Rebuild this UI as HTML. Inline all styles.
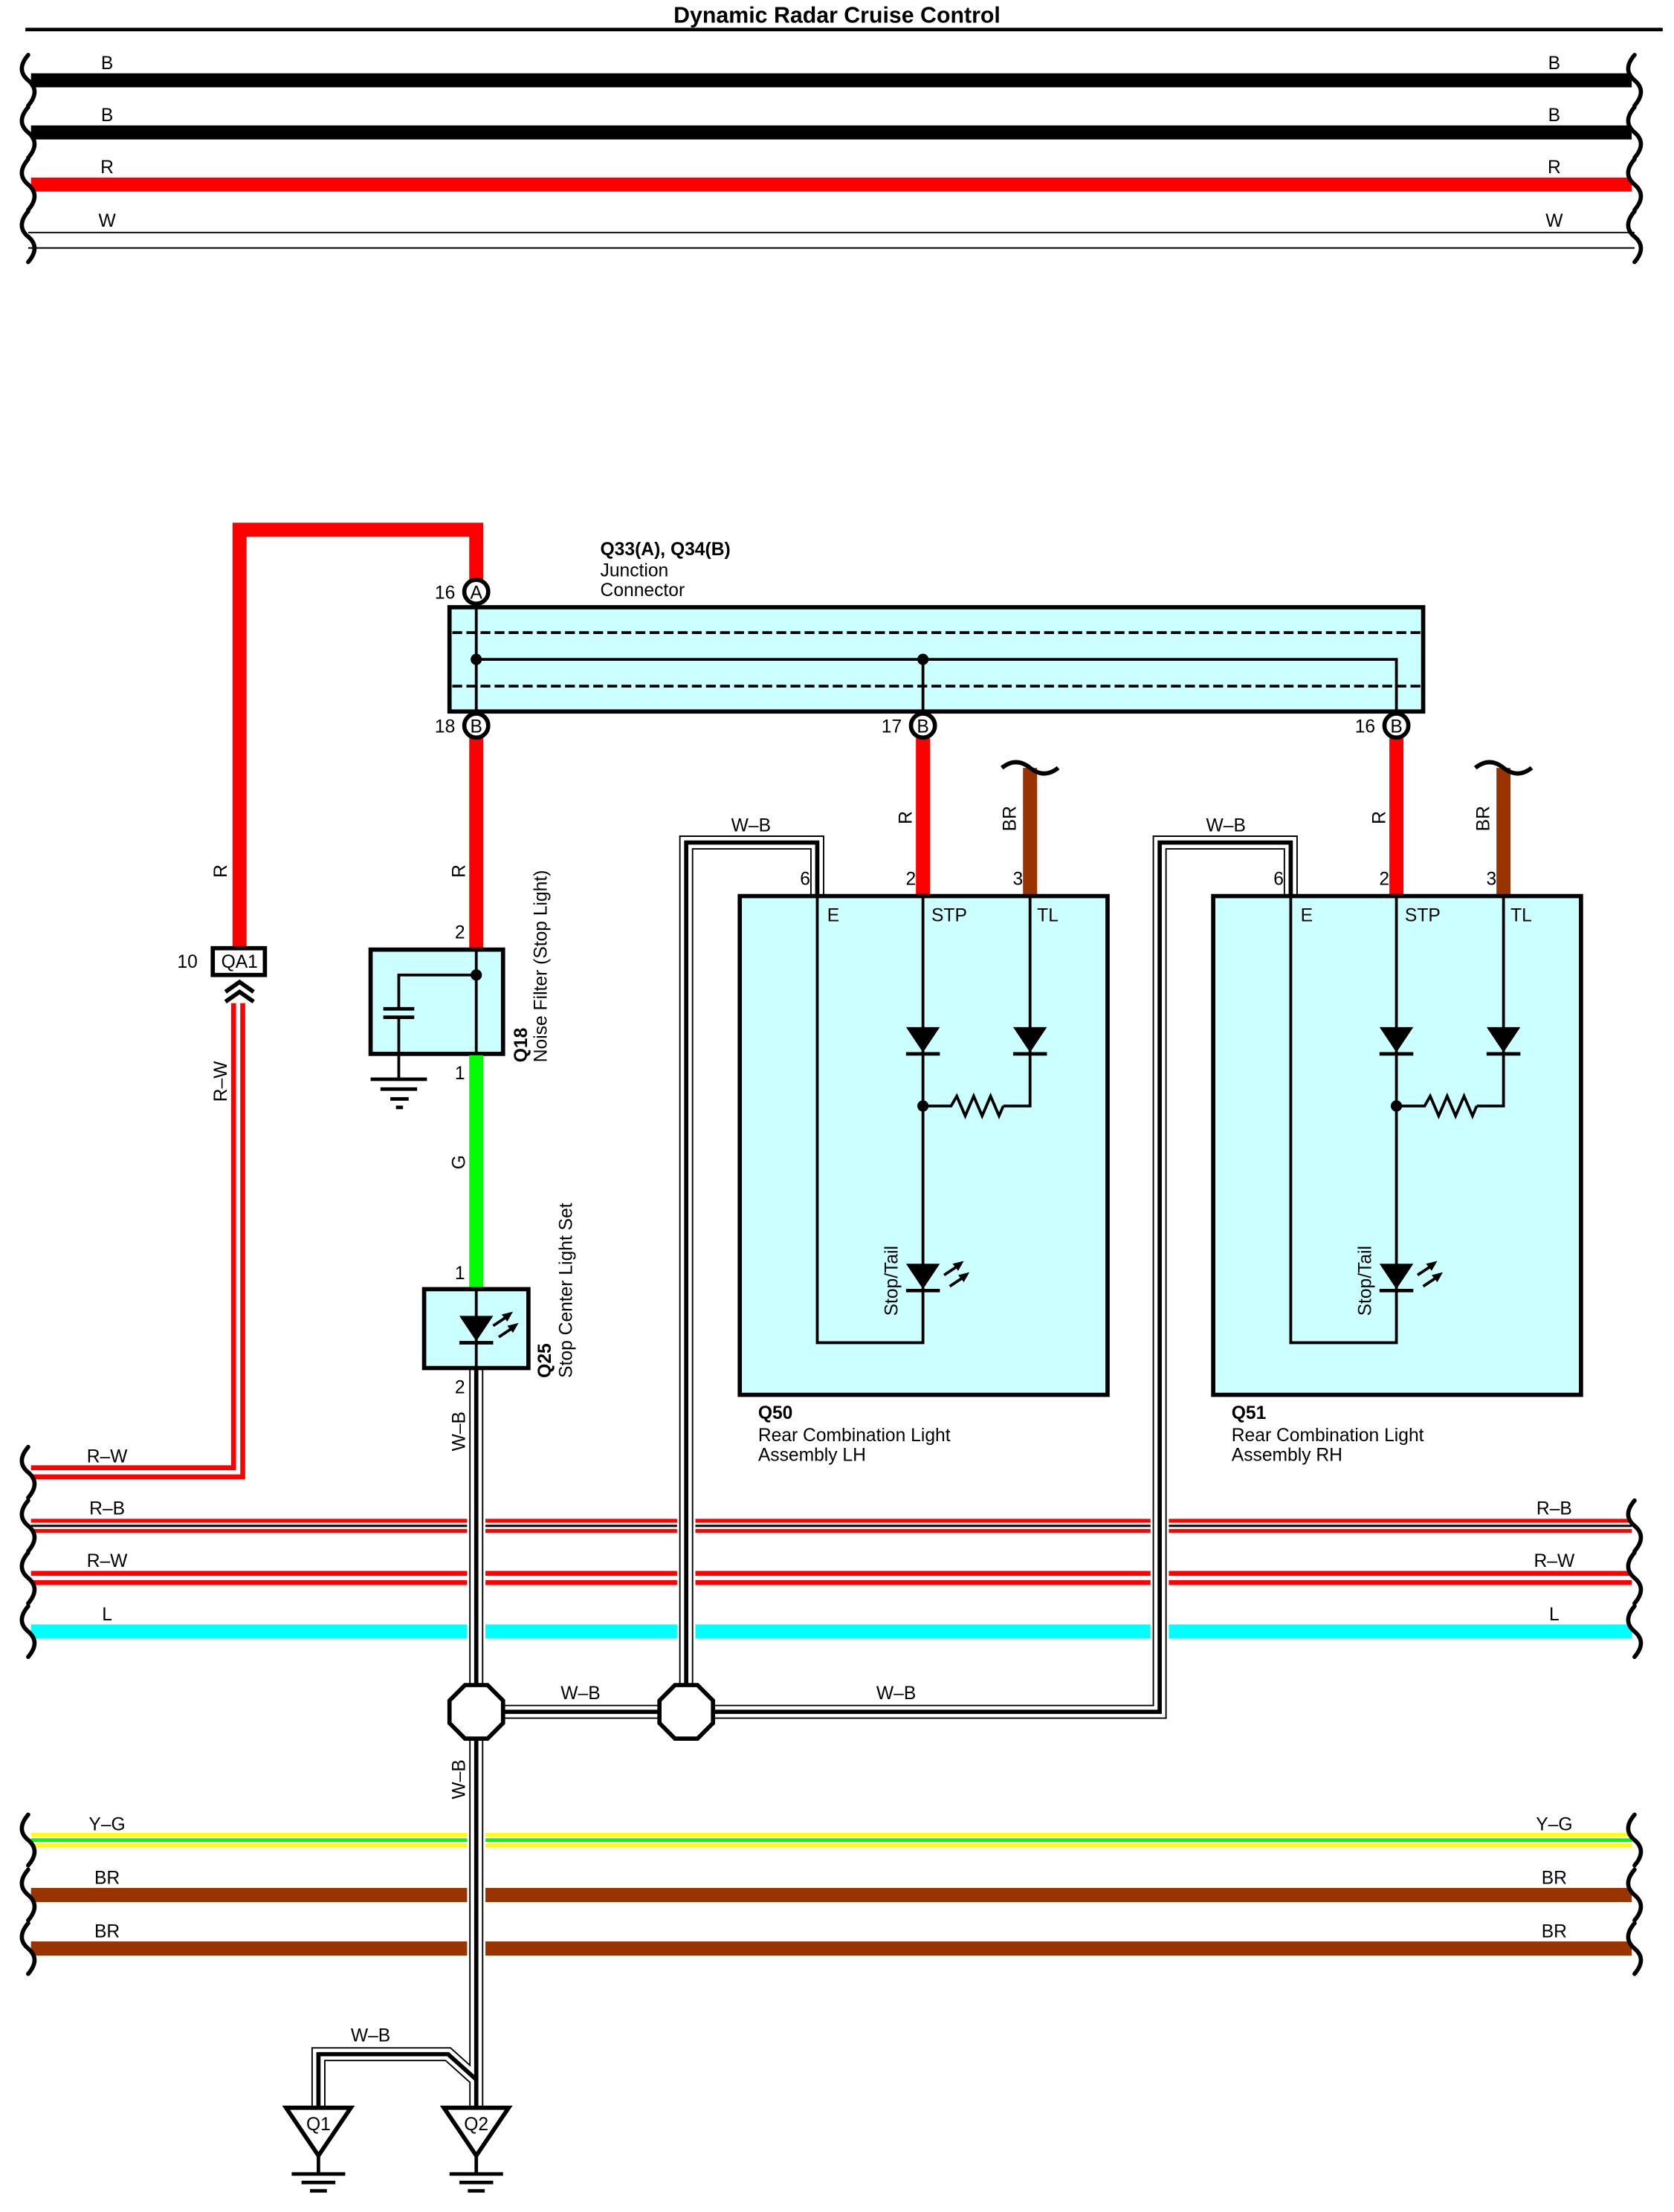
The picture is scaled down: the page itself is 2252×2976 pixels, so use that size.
<!DOCTYPE html>
<html><head><meta charset="utf-8"><style>
html,body{margin:0;padding:0;background:#fff}
svg{display:block}
text{font-family:"Liberation Sans",Arial,sans-serif;font-size:13px;fill:#000}
.b{font-weight:bold}
</style></head><body>
<svg width="2252" height="2976" viewBox="0 0 1188 1570" preserveAspectRatio="none" xmlns="http://www.w3.org/2000/svg">
<defs>
<path id="br" d="M0,-18 C-6,-11 -6,-5 0,0 C6,5 6,11 0,18" fill="none" stroke="#000" stroke-width="3" stroke-linecap="round"/>
<g id="diode"><polygon points="-12,0 12,0 0,18" fill="#000"/><line x1="-12" y1="19" x2="12" y2="19" stroke="#000" stroke-width="2.5"/></g>
<g id="arrows" stroke="#000" stroke-width="2" fill="#000">
<line x1="0" y1="8" x2="12" y2="0"/><polygon points="14,-2 6,0 10,5" stroke="none"/>
<line x1="4" y1="16" x2="16" y2="8"/><polygon points="18,6 10,8 14,13" stroke="none"/>
</g>
</defs>
<text x="594" y="16" text-anchor="middle" class="b" style="font-size:16px">Dynamic Radar Cruise Control</text>
<line x1="18" y1="21" x2="1180" y2="21" stroke="#000" stroke-width="2.5"/>

<g stroke-width="10">
<line x1="22" y1="57" x2="1158" y2="57" stroke="#000"/>
<line x1="22" y1="94" x2="1158" y2="94" stroke="#000"/>
<line x1="22" y1="131" x2="1158" y2="131" stroke="#f00"/>
</g>
<line x1="20" y1="165" x2="1160" y2="165" stroke="#000" stroke-width="1"/>
<line x1="20" y1="176" x2="1160" y2="176" stroke="#000" stroke-width="1"/>
<g>
<text x="76" y="49" text-anchor="middle">B</text><text x="1103" y="49" text-anchor="middle">B</text>
<text x="76" y="86" text-anchor="middle">B</text><text x="1103" y="86" text-anchor="middle">B</text>
<text x="76" y="123" text-anchor="middle">R</text><text x="1103" y="123" text-anchor="middle">R</text>
<text x="76" y="161" text-anchor="middle">W</text><text x="1103" y="161" text-anchor="middle">W</text>
</g>
<use href="#br" x="20" y="57"/><use href="#br" x="20" y="94"/><use href="#br" x="20" y="131"/><use href="#br" x="20" y="168"/>
<use href="#br" x="1160" y="57"/><use href="#br" x="1160" y="94"/><use href="#br" x="1160" y="131"/><use href="#br" x="1160" y="168"/>

<g stroke-width="10" fill="none">
<polyline points="22,1045 169,1045 169,712" stroke="#f00"/>
<line x1="22" y1="1083" x2="1158" y2="1083" stroke="#f00"/>
<line x1="22" y1="1120" x2="1158" y2="1120" stroke="#f00"/>
<line x1="22" y1="1158" x2="1158" y2="1158" stroke="#0ff"/>
<line x1="22" y1="1306" x2="1158" y2="1306" stroke="#ff0"/>
<line x1="22" y1="1345" x2="1158" y2="1345" stroke="#993300"/>
<line x1="22" y1="1383" x2="1158" y2="1383" stroke="#993300"/>
</g>
<polyline points="22,1045 169,1045 169,712" stroke="#fff" stroke-width="3" fill="none"/>
<line x1="22" y1="1083" x2="1158" y2="1083" stroke="#fff" stroke-width="4.5"/>
<line x1="22" y1="1083" x2="1158" y2="1083" stroke="#000" stroke-width="1.6"/>
<line x1="22" y1="1120" x2="1158" y2="1120" stroke="#fff" stroke-width="3"/>
<line x1="22" y1="1306" x2="1158" y2="1306" stroke="#fff" stroke-width="5"/>
<line x1="22" y1="1306" x2="1158" y2="1306" stroke="#0f0" stroke-width="2.5"/>
<g>
<text x="76" y="1038" text-anchor="middle">R–W</text>
<text x="76" y="1075" text-anchor="middle">R–B</text><text x="1103" y="1075" text-anchor="middle">R–B</text>
<text x="76" y="1112" text-anchor="middle">R–W</text><text x="1103" y="1112" text-anchor="middle">R–W</text>
<text x="76" y="1150" text-anchor="middle">L</text><text x="1103" y="1150" text-anchor="middle">L</text>
<text x="76" y="1299" text-anchor="middle">Y–G</text><text x="1103" y="1299" text-anchor="middle">Y–G</text>
<text x="76" y="1337" text-anchor="middle">BR</text><text x="1103" y="1337" text-anchor="middle">BR</text>
<text x="76" y="1375" text-anchor="middle">BR</text><text x="1103" y="1375" text-anchor="middle">BR</text>
</g>
<use href="#br" x="20" y="1045"/><use href="#br" x="20" y="1083"/><use href="#br" x="20" y="1120"/><use href="#br" x="20" y="1158"/>
<use href="#br" x="20" y="1306"/><use href="#br" x="20" y="1345"/><use href="#br" x="20" y="1383"/>
<use href="#br" x="1160" y="1083"/><use href="#br" x="1160" y="1120"/><use href="#br" x="1160" y="1158"/>
<use href="#br" x="1160" y="1306"/><use href="#br" x="1160" y="1345"/><use href="#br" x="1160" y="1383"/>

<g stroke="#fff" stroke-width="13">
<line x1="338" y1="1070" x2="338" y2="1170"/>
<line x1="338" y1="1295" x2="338" y2="1395"/>
<line x1="487" y1="1070" x2="487" y2="1170"/>
<line x1="823" y1="1070" x2="823" y2="1170"/>
</g>

<g fill="none" stroke-linejoin="miter">
<g stroke="#000" stroke-width="10">
<line x1="338" y1="972" x2="338" y2="1496"/>
<polyline points="580,637 580,598 487,598 487,1215"/>
<polyline points="916,637 916,598 823,598 823,1215 487,1215"/>
<line x1="338" y1="1215" x2="487" y2="1215"/>
<polyline points="226,1496 226,1458 318,1458 338,1476"/>
</g>
<g stroke="#fff" stroke-width="8">
<line x1="338" y1="972" x2="338" y2="1496"/>
<polyline points="580,637 580,598 487,598 487,1215"/>
<polyline points="916,637 916,598 823,598 823,1215 487,1215"/>
<line x1="338" y1="1215" x2="487" y2="1215"/>
<polyline points="226,1496 226,1458 318,1458 338,1476"/>
</g>
<g stroke="#000" stroke-width="3">
<line x1="338" y1="972" x2="338" y2="1496"/>
<polyline points="580,637 580,598 487,598 487,1215"/>
<polyline points="916,637 916,598 823,598 823,1215 487,1215"/>
<line x1="338" y1="1215" x2="487" y2="1215"/>
<polyline points="226,1496 226,1458 318,1458 338,1476"/>
</g>
</g>
<text x="412" y="1206" text-anchor="middle">W–B</text>
<text x="636" y="1206" text-anchor="middle">W–B</text>
<text x="533" y="590" text-anchor="middle">W–B</text>
<text x="870" y="590" text-anchor="middle">W–B</text>
<text x="263" y="1449" text-anchor="middle">W–B</text>
<text transform="translate(330,1030) rotate(-90)">W–B</text>
<text transform="translate(330,1277) rotate(-90)">W–B</text>

<polygon points="330,1196 346,1196 357,1207 357,1223 346,1234 330,1234 319,1223 319,1207" fill="#fff" stroke="#000" stroke-width="3"/>
<polygon points="479,1196 495,1196 506,1207 506,1223 495,1234 479,1234 468,1223 468,1207" fill="#fff" stroke="#000" stroke-width="3"/>

<g stroke="#000" stroke-width="3" fill="#fff">
<polygon points="203,1496 249,1496 226,1530"/>
<polygon points="315,1496 361,1496 338,1530"/>
</g>
<g stroke="#000" stroke-width="2.5">
<line x1="226" y1="1530" x2="226" y2="1543"/><line x1="207" y1="1543" x2="245" y2="1543"/><line x1="214" y1="1549" x2="238" y2="1549"/><line x1="220" y1="1555" x2="232" y2="1555"/>
<line x1="338" y1="1530" x2="338" y2="1543"/><line x1="319" y1="1543" x2="357" y2="1543"/><line x1="326" y1="1549" x2="350" y2="1549"/><line x1="332" y1="1555" x2="344" y2="1555"/>
</g>
<text x="226" y="1512" text-anchor="middle">Q1</text>
<text x="338" y="1512" text-anchor="middle">Q2</text>

<g stroke="#f00" stroke-width="10" fill="none">
<polyline points="338,412 338,376 170,376 170,673"/>
<line x1="338" y1="524" x2="338" y2="674"/>
<line x1="655" y1="524" x2="655" y2="637"/>
<line x1="991" y1="524" x2="991" y2="637"/>
</g>
<g stroke="#993300" stroke-width="10">
<line x1="731" y1="545" x2="731" y2="637"/>
<line x1="1067" y1="545" x2="1067" y2="637"/>
</g>
<path d="M711,545 q10,-8 20,0 q10,8 20,0" fill="none" stroke="#000" stroke-width="3"/>
<path d="M1047,545 q10,-8 20,0 q10,8 20,0" fill="none" stroke="#000" stroke-width="3"/>
<text transform="translate(161,623) rotate(-90)">R</text>
<text transform="translate(330,623) rotate(-90)">R</text>
<text transform="translate(161,782) rotate(-90)">R–W</text>
<text transform="translate(647,585) rotate(-90)">R</text>
<text transform="translate(721,590) rotate(-90)">BR</text>
<text transform="translate(983,585) rotate(-90)">R</text>
<text transform="translate(1057,590) rotate(-90)">BR</text>

<rect x="151" y="673" width="37" height="19" fill="#fff" stroke="#000" stroke-width="3"/>
<text x="170" y="687" text-anchor="middle">QA1</text>
<text x="133" y="687" text-anchor="middle">10</text>
<polyline points="160,704 170,697 180,704" fill="none" stroke="#000" stroke-width="3"/>
<polyline points="160,711 170,704 180,711" fill="none" stroke="#000" stroke-width="3"/>

<rect x="319" y="431" width="691" height="74" fill="#ccffff" stroke="#000" stroke-width="3"/>
<line x1="321" y1="449" x2="1008" y2="449" stroke="#000" stroke-width="2" stroke-dasharray="7,3"/>
<line x1="321" y1="487" x2="1008" y2="487" stroke="#000" stroke-width="2" stroke-dasharray="7,3"/>
<g stroke="#000" stroke-width="2" fill="none">
<line x1="338" y1="420" x2="338" y2="515"/>
<polyline points="338,468 991,468 991,515"/>
<line x1="655" y1="468" x2="655" y2="515"/>
</g>
<circle cx="338" cy="468" r="4"/><circle cx="655" cy="468" r="4"/>
<g fill="#fff" stroke="#000" stroke-width="3">
<circle cx="338" cy="420" r="8.5"/><circle cx="338" cy="515" r="8.5"/><circle cx="655" cy="515" r="8.5"/><circle cx="991" cy="515" r="8.5"/>
</g>
<g style="font-size:12px">
<text x="338" y="425" text-anchor="middle">A</text><text x="338" y="520" text-anchor="middle">B</text>
<text x="655" y="520" text-anchor="middle">B</text><text x="991" y="520" text-anchor="middle">B</text>
</g>
<text x="323" y="425" text-anchor="end">16</text>
<text x="323" y="520" text-anchor="end">18</text>
<text x="640" y="520" text-anchor="end">17</text>
<text x="976" y="520" text-anchor="end">16</text>
<text x="426" y="394" class="b">Q33(A), Q34(B)</text>
<text x="426" y="409">Junction</text>
<text x="426" y="423">Connector</text>

<rect x="263" y="674" width="94" height="74" fill="#ccffff" stroke="#000" stroke-width="3"/>
<g stroke="#000" stroke-width="2" fill="none">
<line x1="338" y1="674" x2="338" y2="748"/>
<polyline points="338,692 283,692 283,716"/>
<line x1="283" y1="722" x2="283" y2="766"/>
</g>
<g stroke="#000" stroke-width="2.5">
<line x1="272" y1="716" x2="294" y2="716"/><line x1="272" y1="722" x2="294" y2="722"/>
<line x1="263" y1="766" x2="303" y2="766"/><line x1="270" y1="773" x2="296" y2="773"/><line x1="277" y1="780" x2="290" y2="780"/><line x1="281" y1="786" x2="286" y2="786"/>
</g>
<circle cx="338" cy="692" r="4"/>
<text x="330" y="666" text-anchor="end">2</text>
<text x="330" y="766" text-anchor="end">1</text>
<text transform="translate(374,754) rotate(-90)" class="b">Q18</text>
<text transform="translate(388,754) rotate(-90)">Noise Filter (Stop Light)</text>

<line x1="338" y1="749" x2="338" y2="915" stroke="#0f0" stroke-width="10"/>
<text transform="translate(330,830) rotate(-90)">G</text>
<text x="330" y="908" text-anchor="end">1</text>

<rect x="301" y="915" width="74" height="56" fill="#ccffff" stroke="#000" stroke-width="3"/>
<line x1="338" y1="915" x2="338" y2="971" stroke="#000" stroke-width="2"/>
<use href="#diode" x="338" y="934"/>
<use href="#arrows" x="350" y="933"/>
<text x="330" y="989" text-anchor="end">2</text>
<text transform="translate(391,978) rotate(-90)" class="b">Q25</text>
<text transform="translate(406,978) rotate(-90)">Stop Center Light Set</text>

<g id="rcl">
<rect x="525" y="636" width="261" height="354" fill="#ccffff" stroke="#000" stroke-width="3"/>
<g stroke="#000" stroke-width="2" fill="none">
<polyline points="580,636 580,953 655,953 655,636"/>
<polyline points="731,636 731,785 712,785"/>
<polyline points="655,785 675,785 679,778 685,792 691,778 697,792 703,778 709,792 712,785"/>
</g>
<use href="#diode" x="655" y="729"/>
<use href="#diode" x="731" y="729"/>
<use href="#diode" x="655" y="897"/>
<use href="#arrows" x="670" y="897"/>
<circle cx="655" cy="785" r="4"/>
<text x="587" y="654">E</text><text x="661" y="654">STP</text><text x="736" y="654">TL</text>
<text x="575" y="628" text-anchor="end">6</text><text x="650" y="628" text-anchor="end">2</text><text x="726" y="628" text-anchor="end">3</text>
<text transform="translate(637,934) rotate(-90)">Stop/Tail</text>
</g>
<use href="#rcl" x="336" y="0"/>
<text x="538" y="1007" class="b">Q50</text>
<text x="538" y="1023">Rear Combination Light</text>
<text x="538" y="1037">Assembly LH</text>
<text x="874" y="1007" class="b">Q51</text>
<text x="874" y="1023">Rear Combination Light</text>
<text x="874" y="1037">Assembly RH</text>
</svg>
</body></html>
